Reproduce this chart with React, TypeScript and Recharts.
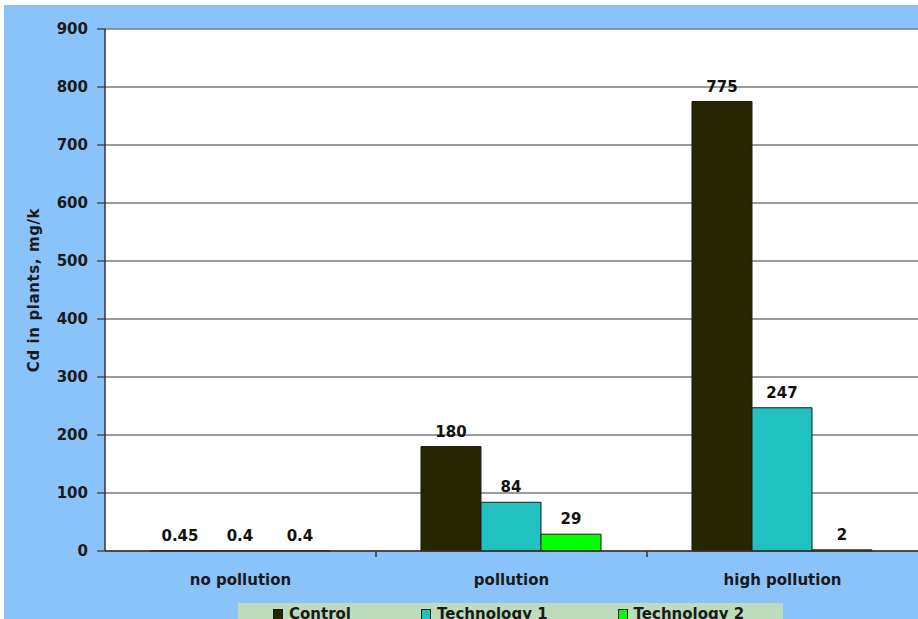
import { BarChart, Bar, XAxis, YAxis, CartesianGrid, LabelList } from "recharts";

const categories = ["no pollution", "pollution", "high pollution"];
const control = [0.45, 180, 775];
const technology1 = [0.4, 84, 247];
const technology2 = [0.4, 29, 2];
const yTicks = [0, 100, 200, 300, 400, 500, 600, 700, 800, 900];

const series = [
  { key: "control", label: "Control", color: "#262600", values: control },
  { key: "tech1", label: "Technology 1", color: "#22c1c1", values: technology1 },
  { key: "tech2", label: "Technology 2", color: "#00ff00", values: technology2 },
];

const data = categories.map((name, i) => {
  const row: Record<string, string | number> = { name };
  series.forEach((s) => (row[s.key] = s.values[i]));
  return row;
});

const FONT = "'DejaVu Sans', Verdana, sans-serif";
const BLUE = "#8ac2fa";

// category label plus a small tick on the left edge of each band
const CategoryTick = (props: any) => {
  const { x, y, payload } = props;
  const left = x - (payload.offset ?? 0);
  const axisY = y - 8;
  return (
    <g>
      {payload.index > 0 && (
        <line x1={left} y1={axisY} x2={left} y2={axisY + 6} stroke="#333" strokeWidth={1.5} />
      )}
      <text
        x={x}
        y={axisY + 34}
        textAnchor="middle"
        fontFamily={FONT}
        fontWeight="bold"
        fontSize={15}
        fill="#1a1a1a"
      >
        {payload.value}
      </text>
    </g>
  );
};

const valueLabel = (p: any) => (
  <text
    x={p.x + p.width / 2}
    y={p.y - 10}
    textAnchor="middle"
    fontFamily={FONT}
    fontWeight="bold"
    fontSize={15}
    fill="#111"
  >
    {p.value}
  </text>
);

export default function App() {
  return (
    <div
      style={{
        position: "absolute",
        left: 0,
        top: 0,
        width: 918,
        height: 619,
        background: "#fff",
        overflow: "hidden",
      }}
    >
      <div
        style={{
          position: "absolute",
          left: 4,
          top: 5,
          width: 914,
          height: 614,
          background: BLUE,
        }}
      >
        <BarChart
          width={914}
          height={614}
          data={data}
          margin={{ top: 24, right: 0, left: 0, bottom: 0 }}
          barCategoryGap="16.6%"
          barGap={0}
        >
          <CartesianGrid
            vertical={false}
            fill="#ffffff"
            stroke="#7a7a7a"
            strokeWidth={1.3}
          />
          <XAxis
            dataKey="name"
            height={68}
            interval={0}
            tickLine={false}
            axisLine={{ stroke: "#333", strokeWidth: 1.5 }}
            tick={<CategoryTick />}
          />
          <YAxis
            width={101}
            domain={[0, 900]}
            ticks={yTicks}
            interval={0}
            tickSize={8}
            tickMargin={9}
            axisLine={{ stroke: "#333", strokeWidth: 1.5 }}
            tickLine={{ stroke: "#333", strokeWidth: 1.2 }}
            tick={{ fontFamily: FONT, fontWeight: "bold", fontSize: 15, fill: "#1a1a1a" }}
            label={{
              content: (p: any) => {
                const vb = p.viewBox;
                const cx = vb.x + 30;
                const cy = vb.y + vb.height / 2;
                return (
                  <text
                    x={cx}
                    y={cy}
                    transform={`rotate(-90 ${cx} ${cy})`}
                    textAnchor="middle"
                    dominantBaseline="central"
                    fontFamily={FONT}
                    fontWeight="bold"
                    fontSize={15}
                    letterSpacing={0.6}
                    fill="#1a1a1a"
                  >
                    Cd in plants, mg/k
                  </text>
                );
              },
            }}
          />
          {series.map((s) => (
            <Bar
              key={s.key}
              dataKey={s.key}
              name={s.label}
              fill={s.color}
              stroke="#1a1a1a"
              strokeWidth={1}
              isAnimationActive={false}
            >
              <LabelList dataKey={s.key} content={valueLabel} />
            </Bar>
          ))}
        </BarChart>
      </div>
      <div
        style={{
          position: "absolute",
          left: 238,
          top: 603,
          width: 545,
          height: 30,
          background: "#bcdcbc",
          display: "flex",
          alignItems: "flex-start",
          gap: 70,
          paddingLeft: 35,
          paddingTop: 2,
          boxSizing: "border-box",
          fontFamily: FONT,
          fontWeight: "bold",
          fontSize: 15,
          lineHeight: "18px",
          color: "#1a1a1a",
        }}
      >
        {series.map((s) => (
          <div key={s.key} style={{ display: "flex", alignItems: "center", gap: 6 }}>
            <span
              style={{
                display: "inline-block",
                width: 8,
                height: 9,
                background: s.color,
                border: "1px solid #1a1a1a",
              }}
            />
            <span>{s.label}</span>
          </div>
        ))}
      </div>
    </div>
  );
}
